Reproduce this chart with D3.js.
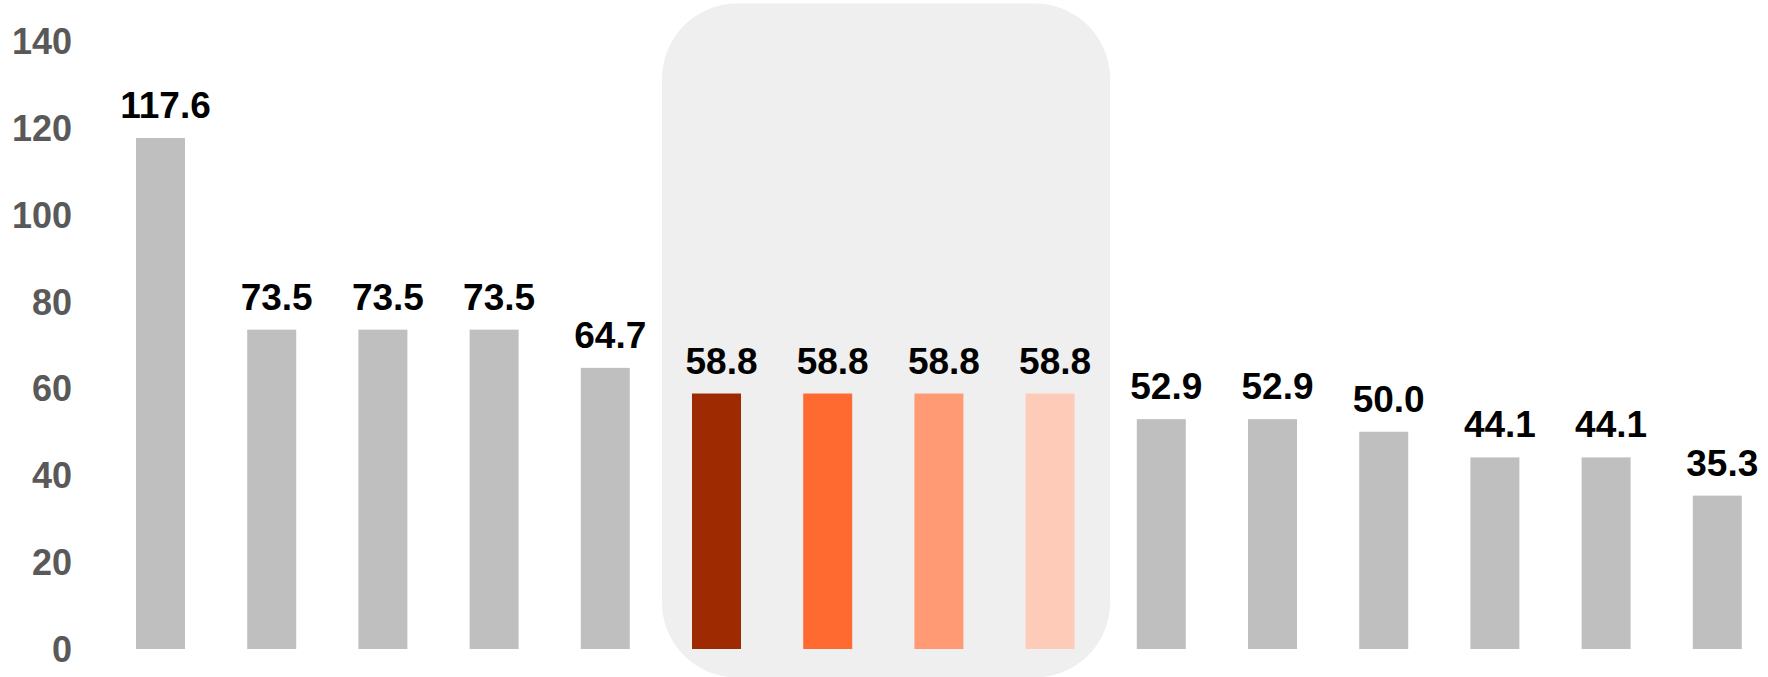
<!DOCTYPE html>
<html>
<head>
<meta charset="utf-8">
<script src="https://cdn.jsdelivr.net/npm/d3@7"></script>
<style>
  html, body { margin: 0; padding: 0; background: #ffffff; }
  svg { display: block; }
</style>
</head>
<body>
<svg id="chart" width="1768" height="677"></svg>
<script>
// ---- data ----
const categories = ["A","B","C","D","E","F","G","H","I","J","K","L","M","N","O"];
const values = [117.6, 73.5, 73.5, 73.5, 64.7, 58.8, 58.8, 58.8, 58.8, 52.9, 52.9, 50.0, 44.1, 44.1, 35.3];
const barColors = ["#BFBFBF","#BFBFBF","#BFBFBF","#BFBFBF","#BFBFBF",
                   "#9E2A02","#FF6A30","#FF9A75","#FDCBB7",
                   "#BFBFBF","#BFBFBF","#BFBFBF","#BFBFBF","#BFBFBF","#BFBFBF"];
const highlighted = ["F","G","H","I"];
const yTicks = [0, 20, 40, 60, 80, 100, 120, 140];

// ---- layout ----
const W = 1768, H = 677;
const svg = d3.select("#chart");

const step = 111.2;
const x = d3.scaleBand()
  .domain(categories)
  .range([160.5 - step / 2, 160.5 - step / 2 + step * categories.length])
  .paddingInner(1 - 49 / step)
  .paddingOuter((1 - 49 / step) / 2);

const y = d3.scaleLinear().domain([0, 140]).range([649, 649 - 140 * 4.345]);

// highlight box
const hx0 = 662, hx1 = 1110;
svg.append("rect")
  .attr("x", hx0).attr("y", 3.5)
  .attr("width", hx1 - hx0).attr("height", H - 3.5 + 0.5)
  .attr("rx", 75).attr("ry", 75)
  .attr("fill", "#EFEFEF");

// y axis
const yAxis = d3.axisLeft(y).tickValues(yTicks).tickSize(0).tickPadding(0);
const gy = svg.append("g").attr("transform", "translate(72,0)").call(yAxis);
gy.select(".domain").remove();
gy.selectAll("text")
  .attr("fill", "#595959")
  .attr("font-family", "'Liberation Sans', Arial, sans-serif")
  .attr("font-weight", "bold")
  .attr("font-size", "36px")
  .attr("dy", "0.35em");

// bars
svg.append("g").selectAll("rect")
  .data(values)
  .join("rect")
  .attr("x", (d, i) => x(categories[i]))
  .attr("y", d => y(d))
  .attr("width", x.bandwidth())
  .attr("height", d => y(0) - y(d))
  .attr("fill", (d, i) => barColors[i]);

// value labels
svg.append("g").selectAll("text")
  .data(values)
  .join("text")
  .attr("x", (d, i) => x(categories[i]) + x.bandwidth() / 2 + 5)
  .attr("y", d => y(d) - 20)
  .attr("text-anchor", "middle")
  .attr("font-family", "'Liberation Sans', Arial, sans-serif")
  .attr("font-weight", "bold")
  .attr("font-size", "37px")
  .attr("fill", "#000000")
  .text(d => d3.format(".1f")(d));
</script>
</body>
</html>
